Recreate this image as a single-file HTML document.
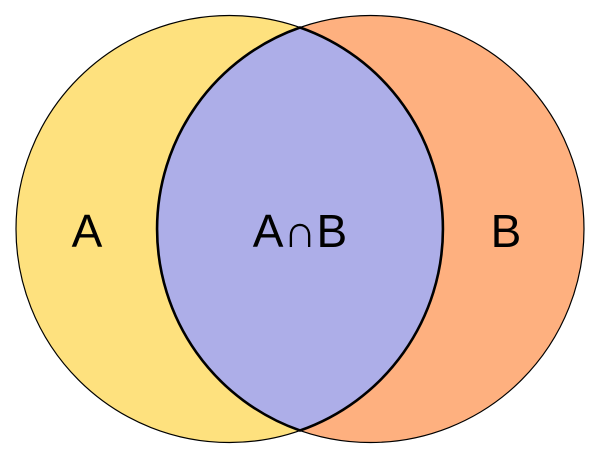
<!DOCTYPE html>
<html><head><meta charset="utf-8"><style>html,body{margin:0;padding:0;background:#fff}svg{display:block}text{font-family:"Liberation Sans",Arial,sans-serif;font-size:46px}</style></head>
<body><svg width="600" height="459" viewBox="0 0 600 459" xmlns="http://www.w3.org/2000/svg">
<circle cx="229.5" cy="229" r="213.5" fill="#fee17e" stroke="#000" stroke-width="1.2"/>
<circle cx="370.5" cy="229" r="213.5" fill="#feb07f" stroke="#000" stroke-width="1.2"/>
<path d="M300,27.5 A213.5,213.5 0 0 1 300,430.5 A213.5,213.5 0 0 1 300,27.5 Z" fill="#adaee8" stroke="#000" stroke-width="2.6"/>
<g text-anchor="middle">
<text x="87" y="247">A</text>
<text x="300" y="247">A∩B</text>
<text x="506" y="247">B</text>
</g>
</svg></body></html>
